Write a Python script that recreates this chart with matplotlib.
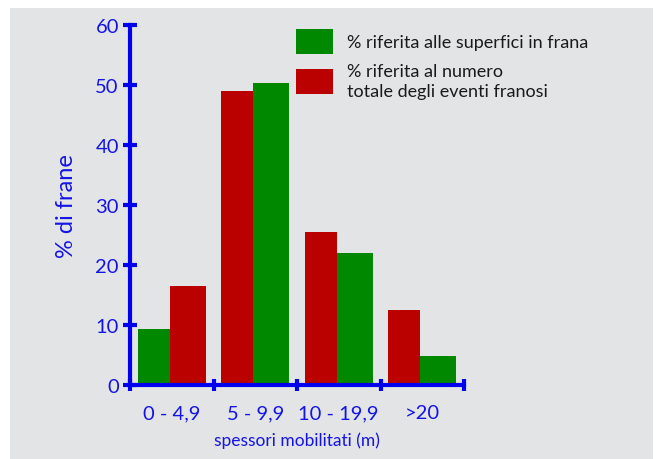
import matplotlib
matplotlib.use("Agg")
import matplotlib.pyplot as plt
from matplotlib.patches import Rectangle

# Data
categories = ["0 - 4,9", "5 - 9,9", "10 - 19,9", ">20"]
pct_superfici = [9.3, 50.3, 22.0, 4.8]   # % riferita alle superfici in frana
pct_eventi = [16.5, 49.0, 25.5, 12.5]    # % riferita al numero totale degli eventi franosi
label_superfici = "% riferita alle superfici in frana"
label_eventi = "% riferita al numero\ntotale degli eventi franosi"
y_ticks = [0, 10, 20, 30, 40, 50, 60]

GREEN = "#008800"
RED = "#bb0000"
BLUE = "#0000ee"
TEXT_BLUE = "#1414e6"
BG = "#e3e4e6"

plt.rcParams["font.family"] = ["Lato", "DejaVu Sans"]

W, H = 659, 460
fig = plt.figure(figsize=(W / 100, H / 100), dpi=100)
fig.patch.set_facecolor("white")
fig.patches.append(Rectangle((10 / W, 0), (653 - 10) / W, (H - 9) / H,
                             transform=fig.transFigure, facecolor=BG,
                             edgecolor="none", zorder=-10))

ax = fig.add_axes([130 / W, (H - 386) / H, 334 / W, 360 / H])
ax.set_facecolor("none")

# Bar widths and offsets inside each category slot
w_first, w_second, offset = 0.385, 0.43, 0.09
first_is_superfici = [True, False, False, False]

for i in range(len(categories)):
    x0 = i + offset
    if first_is_superfici[i]:
        seq = [(pct_superfici[i], GREEN, w_first), (pct_eventi[i], RED, w_second)]
    else:
        seq = [(pct_eventi[i], RED, w_first), (pct_superfici[i], GREEN, w_second)]
    x = x0
    for val, col, w in seq:
        ax.bar(x, val, width=w, align="edge", color=col, linewidth=0, zorder=2)
        x += w

ax.set_xlim(0, len(categories))
ax.set_ylim(0, 60)

for s in ["top", "right"]:
    ax.spines[s].set_visible(False)
for s in ["left", "bottom"]:
    ax.spines[s].set_color(BLUE)
    ax.spines[s].set_linewidth(3)
    ax.spines[s].set_zorder(3)

ax.set_yticks(y_ticks)
ax.set_yticklabels([str(v) for v in y_ticks])
ax.set_xticks(range(len(categories) + 1))
ax.set_xticklabels([])
ax.set_xticks([i + 0.5 for i in range(len(categories))], minor=True)
ax.set_xticklabels(categories, minor=True)

ax.tick_params(axis="y", which="major", direction="inout", length=10, width=3,
               color=BLUE, labelcolor=TEXT_BLUE, labelsize=14.5, pad=3)
ax.tick_params(axis="x", which="major", direction="inout", length=9, width=3,
               color=BLUE)
ax.tick_params(axis="x", which="minor", length=0, labelcolor=TEXT_BLUE,
               labelsize=14.5, pad=14)

ax.set_ylabel("% di frane", color=TEXT_BLUE, fontsize=17, labelpad=13)
ax.set_xlabel("spessori mobilitati (m)", color=TEXT_BLUE, fontsize=12.5, labelpad=7)

handles = [Rectangle((0, 0), 1, 1, facecolor=GREEN, edgecolor="none"),
           Rectangle((0, 0), 1, 1, facecolor=RED, edgecolor="none")]
leg = ax.legend(handles, [label_superfici, label_eventi], loc="upper left",
                bbox_to_anchor=(296 / W, 1 - 30 / H), bbox_transform=fig.transFigure,
                frameon=False, borderpad=0, borderaxespad=0, fontsize=13,
                handlelength=2.05, handleheight=1.75, handletextpad=0.75,
                labelspacing=0.5)
for t in leg.get_texts():
    t.set_color("#1a1a1a")
    t.set_linespacing(1.3)

fig.savefig("out.png", dpi=100)
